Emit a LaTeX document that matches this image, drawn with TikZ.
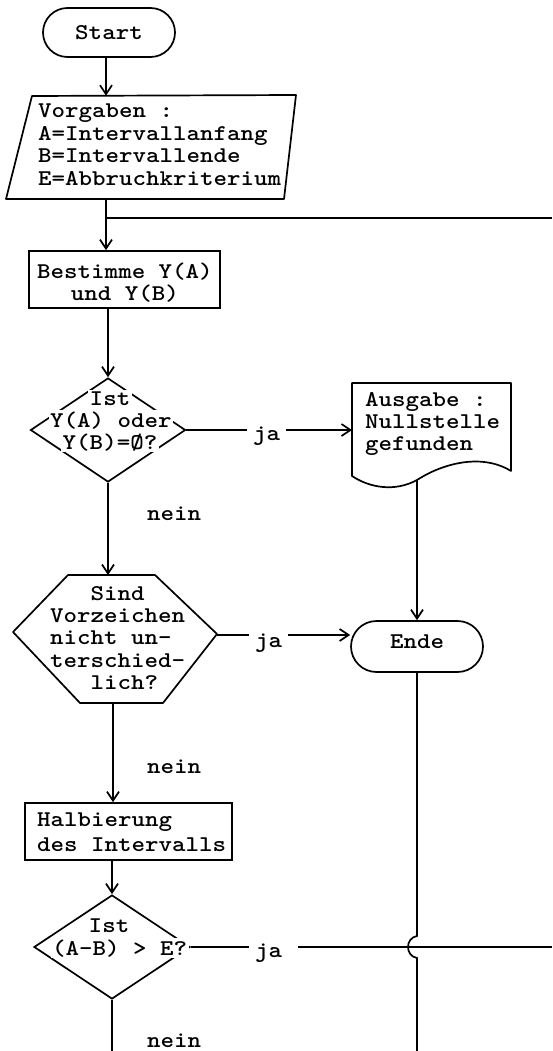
\documentclass[tikz,border=0pt]{standalone}
\usepackage{fontspec}
% darker typewriter face, widened to a 13.5pt character pitch
\setmainfont{lmmonolt10-bold.otf}[FakeStretch=1.143]
\usetikzlibrary{arrows.meta,shapes.geometric,shapes.misc,calc}
% stacked lines with a fixed baseline distance; the box's baseline is the first line
\newcommand{\flines}[2][22.4pt]{\vtop{\baselineskip=#1\relax\lineskiplimit=-50pt\halign{##\hfil\cr#2\crcr}}}
\newcommand{\cflines}[2][22.4pt]{\vtop{\baselineskip=#1\relax\lineskiplimit=-50pt\halign{\hfil##\hfil\cr#2\crcr}}}
\begin{document}
\begin{tikzpicture}[x=1pt,y=-1pt,
  every node/.style={font=\fontsize{22.5}{22.4}\selectfont},
  flow/.style={line width=1.7pt},
  arr/.style={flow,-{Straight Barb[length=9pt,width=12pt]}},
  box/.style={draw,line width=1.7pt,inner sep=0pt},
  txt/.style={inner sep=0pt},
  cut/.style={fill=white,inner xsep=1.5pt,inner ysep=1pt},
  lbl/.style={inner xsep=6pt,inner ysep=0pt,anchor=base west}]
\fill[white] (0,0) rectangle (552,1051);
\useasboundingbox (0,0) rectangle (552,1051);

% Start
\node[box,rounded rectangle,minimum width=132pt,minimum height=49pt] (start) at (109,32.5) {Start};

% input: Vorgaben
\draw[flow,line join=round] (32,96) -- (296,95) -- (284,199) -- (6,199) -- cycle;
\coordinate (vtop) at (106,95.7);
\coordinate (vbot) at (106,199);
\node[txt,anchor=base west] (vorg) at (38,118)
  {\flines{Vorgaben :\cr A=Intervallanfang\cr B=Intervallende\cr E=Abbruchkriterium}};
\draw[arr] (start.south -| vtop) -- (vtop);

% Bestimme Y(A) und Y(B)
\node[box,minimum width=191pt,minimum height=57pt] (bes) at (124.5,279.5) {};
\node[txt,anchor=base] (bestxt) at (125,278) {\cflines{Bestimme Y(A)\cr und Y(B)}};
\coordinate (loopin) at (552,218);
\coordinate (junc) at (106,218);
\draw[arr] (vbot) -- (vbot |- bes.north);
\draw[flow] (loopin) -- (junc);

% first decision
\node[box,diamond,minimum width=155pt,minimum height=104pt] (d1) at (108,430) {};
\draw[arr] (bes.south -| d1.north) -- (d1.north);
\node[cut,anchor=base] (d1a) at (110,405) {Ist};
\node[cut,anchor=base] (d1b) at (111,427) {Y(A) oder};
\node[cut,anchor=base] (d1c) at (110,449) {Y(B)=Ø?};

% output document
\draw[flow,line join=round] (352,476) -- (352,383) -- (511,383) -- (511,471)
  .. controls (480,452) and (440,465) .. (417,480)
  .. controls (395,492) and (370,488) .. (352,476) -- cycle;
\coordinate (docL) at (352,430);
\coordinate (docB) at (417,480);
\node[txt,anchor=base west] (doctxt) at (365,406) {\flines{Ausgabe :\cr Nullstelle\cr gefunden}};

\node[lbl] (ja1) at (247,440) {ja};
\draw[flow] (d1.east) -- (d1.east -| ja1.west);
\draw[arr] (d1.east -| ja1.east) -- (docL);
\node[lbl,inner xsep=0pt] (nein1) at (147,520) {nein};

% second decision (hexagon)
\draw[flow,line join=round] (68,575) -- (155,575) -- (217,634) -- (163,703) -- (80,703) -- (13,632) -- cycle;
\coordinate (hexT) at (108,575);
\coordinate (hexR) at (217,635);
\coordinate (hexB) at (113,703);
\draw[arr] (d1.south) -- (d1.south |- hexT);
\node[txt,anchor=base west] (hextxt) at (50,600)
  {\flines{\phantom{Sin}Sind\cr Vorzeichen\cr nicht un-\cr terschied-\cr \phantom{ter}lich?}};

% Ende
\node[box,rounded rectangle,minimum width=132pt,minimum height=51pt,text depth=10.5pt] (ende) at (417,646.5) {Ende};
\node[lbl] (ja2) at (249,647) {ja};
\draw[flow] (hexR) -- (hexR -| ja2.west);
\draw[arr] (hexR -| ja2.east) -- (hexR -| ende.west);
\draw[arr] (docB) -- (docB |- ende.north);

% Halbierung des Intervalls
\node[box,minimum width=207pt,minimum height=57pt] (hal) at (128.5,831.5) {};
\node[txt,anchor=base west] (haltxt) at (37,826) {\flines[25pt]{Halbierung\cr des Intervalls}};
\draw[arr] (hexB) -- (hexB |- hal.north);
\node[lbl,inner xsep=0pt] (nein2) at (147,773) {nein};

% third decision
\node[box,diamond,minimum width=156pt,minimum height=104pt] (d2) at (112,947) {};
\draw[arr] (hal.south -| d2.north) -- (d2.north);
\node[cut,anchor=base] (d2a) at (109,932) {Ist};
\node[cut,anchor=base west] (d2b) at (50.5,955) {(A-B) > E?};
\node[lbl] (ja3) at (249,957) {ja};
\coordinate (loopout) at (552,947);
\coordinate (exit) at (112,1051);
\draw[flow] (d2.east) -- (d2.east -| ja3.west);
\draw[flow] ($(d2.east -| ja3.east)+(10,0)$) -- (loopout);
\draw[flow] (d2.south) -- (exit);
\node[lbl,inner xsep=0pt] (nein3) at (147,1047) {nein};

% line below Ende, bridging the loop-back line
\coordinate (bridgeA) at (417,936);
\coordinate (bridgeB) at (417,958);
\coordinate (down) at (417,1051);
\draw[flow] (ende.south) -- (bridgeA) .. controls (405,938) and (405,956) .. (bridgeB) -- (down);
\end{tikzpicture}
\end{document}
